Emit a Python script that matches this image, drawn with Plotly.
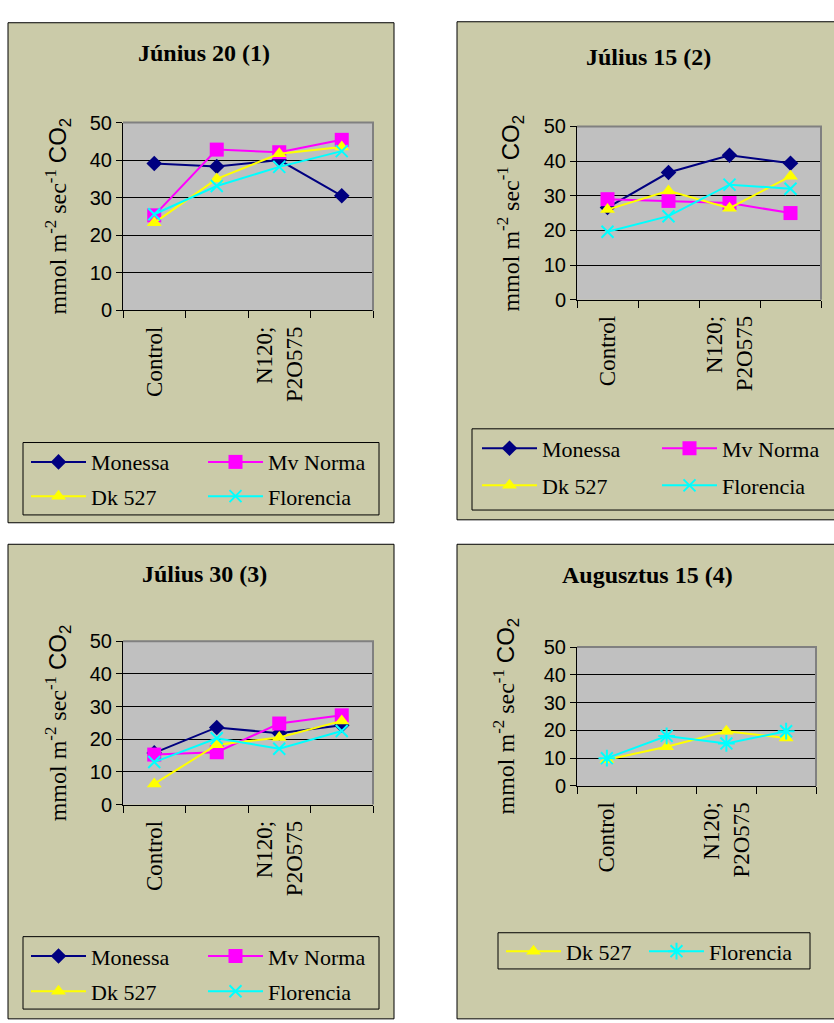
import plotly.graph_objects as go

W, H = 834, 1023

# ---------------- data ----------------
tick_labels = ["Control", "", "N120;<br>P2O575", ""]
series_names = ["Monessa", "Mv Norma", "Dk 527", "Florencia"]

junius20_monessa = [39.1, 38.3, 40.0, 30.5]
junius20_mvnorma = [25.3, 42.8, 42.1, 45.4]
junius20_dk527 = [23.3, 35.0, 41.7, 43.5]
junius20_florencia = [25.6, 33.1, 38.2, 42.4]

julius15_monessa = [26.6, 36.7, 41.7, 39.4]
julius15_mvnorma = [29.0, 28.5, 27.9, 25.0]
julius15_dk527 = [26.0, 31.4, 26.4, 35.6]
julius15_florencia = [19.6, 24.1, 33.2, 32.0]

julius30_monessa = [15.8, 23.6, 21.8, 24.3]
julius30_mvnorma = [15.3, 16.0, 24.8, 27.3]
julius30_dk527 = [6.3, 18.3, 20.5, 25.6]
julius30_florencia = [13.0, 20.3, 17.1, 22.5]

augusztus15_dk527 = [9.4, 14.1, 19.7, 17.3]
augusztus15_florencia = [10.0, 18.0, 15.3, 19.7]

panel_titles = ["Június 20 (1)", "Július 15 (2)", "Július 30 (3)", "Augusztus 15 (4)"]
y_title = ('mmol m<sup>-2</sup> sec<sup>-1</sup> '
           '<span style="font-family:Liberation Sans">CO<sub>2</sub></span>')

# ---------------- styles ----------------
BEIGE = "#CBCBA9"
PLOTBG = "#C0C0C0"
SERIF = "Liberation Serif"
SANS = "Liberation Sans"

style = {
    "Monessa": dict(color="#000080", symbol="diamond", size=12, lw=0),
    "Mv Norma": dict(color="#FF00FF", symbol="square", size=14, lw=0),
    "Dk 527": dict(color="#FFFF00", symbol="triangle-up", size=13, lw=0),
    "Florencia": dict(color="#00FFFF", symbol="x-thin-open", size=12, lw=2),
}

def px(x):
    return x / W

def py(y):
    return 1 - y / H

panels = [
    dict(
        data=[("Monessa", junius20_monessa), ("Mv Norma", junius20_mvnorma),
              ("Dk 527", junius20_dk527), ("Florencia", junius20_florencia)],
        plot=(123, 373, 114, 306), box=(8, 12, 394, 523), lbox=(23, 441, 379, 515),
        title=(204, 43), ytitle=(58, 210),
        leg=[(26, 461), (203, 461), (26, 496), (203, 496)],
    ),
    dict(
        data=[("Monessa", julius15_monessa), ("Mv Norma", julius15_mvnorma),
              ("Dk 527", julius15_dk527), ("Florencia", julius15_florencia)],
        plot=(577, 821, 118, 295), box=(457, 11, 845, 520), lbox=(472, 427, 845, 510),
        title=(648, 47), ytitle=(510, 207),
        leg=[(477, 447), (657, 447), (477, 485), (657, 485)],
    ),
    dict(
        data=[("Monessa", julius30_monessa), ("Mv Norma", julius30_mvnorma),
              ("Dk 527", julius30_dk527), ("Florencia", julius30_florencia)],
        plot=(123, 373, 644, 811), box=(8, 545, 394, 1030), lbox=(23, 946, 379, 1020),
        title=(204, 575), ytitle=(58, 728),
        leg=[(26, 966), (203, 966), (26, 1002), (203, 1002)],
    ),
    dict(
        data=[("Dk 527", augusztus15_dk527), ("Florencia", augusztus15_florencia)],
        plot=(577, 816, 650, 792), box=(457, 545, 845, 1030), lbox=(498, 942, 810, 979),
        title=(647, 576), ytitle=(506, 721),
        leg=[(501, 961), (644, 961)],
        flor_symbol="asterisk-open", flor_size=14,
    ),
]

fig = go.Figure()
shapes_box = []
shapes_plot = []
shapes_top = []
annotations = []
layout = {}

legend_count = 0
xcat = list(range(len(tick_labels)))
label_vals = [k for k, t in enumerate(tick_labels) if t]
label_text = [t for t in tick_labels if t]

for i, p in enumerate(panels):
    n = "" if i == 0 else str(i + 1)
    xa, ya = "x" + n, "y" + n
    x0, x1, y0, y1 = p["plot"]
    layout["xaxis" + n] = dict(
        domain=[px(x0), px(x1)], anchor=ya, range=[-0.5, len(tick_labels) - 0.5],
        tickmode="array", tickvals=label_vals, ticktext=label_text, ticks="",
        tickangle=-90, tickfont=dict(family=SERIF, size=23, color="black"),
        ticklabelstandoff=6,
        showline=True, linecolor="black", linewidth=1, showgrid=False, zeroline=False,
        minor=dict(tickmode="array", tickvals=[v - 0.5 for v in xcat] + [xcat[-1] + 0.5],
                   ticks="outside", ticklen=7, tickcolor="black", tickwidth=1, showgrid=False),
        fixedrange=True,
    )
    layout["yaxis" + n] = dict(
        domain=[py(y1), py(y0)], anchor=xa, range=[0, 50], dtick=10, tick0=0,
        ticks="outside", ticklen=6, tickcolor="black", tickwidth=1,
        tickfont=dict(family=SANS, size=20, color="black"),
        showline=True, linecolor="black", linewidth=1,
        showgrid=True, gridcolor="black", gridwidth=1, zeroline=False, fixedrange=True,
    )
    # panel background box
    bx0, by0, bx1, by1 = p["box"]
    shapes_box.append(dict(type="rect", xref="paper", yref="paper",
                           x0=px(bx0), x1=px(bx1), y0=py(by1), y1=py(by0),
                           fillcolor=BEIGE, line=dict(color="black", width=1), layer="below"))
    lx0, ly0, lx1, ly1 = p["lbox"]
    shapes_box.append(dict(type="rect", xref="paper", yref="paper",
                           x0=px(lx0), x1=px(lx1), y0=py(ly1), y1=py(ly0),
                           fillcolor="rgba(0,0,0,0)", line=dict(color="black", width=1), layer="below"))
    # plot area
    shapes_plot.append(dict(type="rect", xref=xa + " domain", yref=ya + " domain",
                            x0=0, x1=1, y0=0, y1=1, fillcolor=PLOTBG,
                            line=dict(width=0), layer="below"))
    shapes_top.append(dict(type="path", xref=xa + " domain", yref=ya + " domain",
                           path="M0,1 L1,1 L1,0", line=dict(color="#808080", width=2),
                           layer="above"))
    # titles
    tx, ty = p["title"]
    annotations.append(dict(text="<b>" + panel_titles[i] + "</b>", xref="paper", yref="paper",
                            x=px(tx), y=py(ty), xanchor="center", yanchor="middle",
                            showarrow=False, font=dict(family=SERIF, size=24, color="black")))
    yx, yy = p["ytitle"]
    annotations.append(dict(text=y_title, xref="paper", yref="paper", textangle=-90,
                            x=px(yx), y=py(yy), xanchor="center", yanchor="middle",
                            showarrow=False, font=dict(family=SERIF, size=24, color="black")))
    # traces with one legend per entry
    for j, (name, vals) in enumerate(p["data"]):
        st = style[name]
        symbol, size = st["symbol"], st["size"]
        if name == "Florencia" and "flor_symbol" in p:
            symbol, size = p["flor_symbol"], p["flor_size"]
        legend_count += 1
        lid = "legend" if legend_count == 1 else "legend" + str(legend_count)
        lxx, lyy = p["leg"][j]
        layout[lid] = dict(x=px(lxx), y=py(lyy), xanchor="left", yanchor="middle",
                           bgcolor="rgba(0,0,0,0)", borderwidth=0, itemwidth=55,
                           font=dict(family=SERIF, size=22, color="black"),
                           orientation="v")
        fig.add_trace(go.Scatter(
            x=xcat, y=vals, name=name, mode="lines+markers",
            xaxis=xa, yaxis=ya, legend=lid, showlegend=True,
            line=dict(color=st["color"], width=2),
            marker=dict(symbol=symbol, size=size, color=st["color"],
                        line=dict(color=st["color"], width=st["lw"])),
            cliponaxis=False,
        ))

fig.update_layout(
    width=W, height=H, autosize=False,
    margin=dict(l=0, r=0, t=0, b=0, pad=0),
    paper_bgcolor="white", plot_bgcolor="rgba(0,0,0,0)",
    shapes=shapes_box + shapes_plot + shapes_top,
    annotations=annotations,
    **layout,
)

fig.write_html("out.html")
